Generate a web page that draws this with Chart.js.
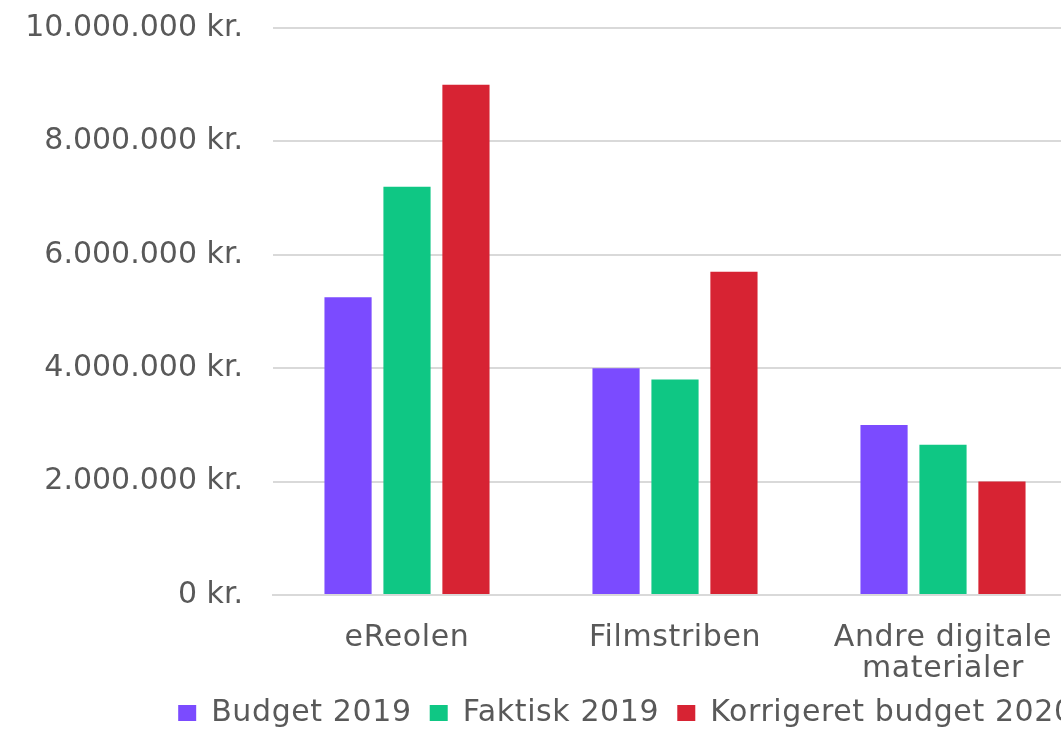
<!DOCTYPE html>
<html>
<head>
<meta charset="utf-8">
<script src="https://cdn.jsdelivr.net/npm/chart.js@4"></script>
<style>
  body { margin: 0; overflow: hidden; background: #fff; }
</style>
</head>
<body>
<canvas id="chart" width="1262" height="729"></canvas>
<script>
// Data
const categories = ["eReolen", "Filmstriben", ["Andre digitale", "materialer"]];
const budget2019 = [5250000, 4000000, 3000000];
const faktisk2019 = [7200000, 3800000, 2650000];
const korrigeret2020 = [9000000, 5700000, 2000000];
const seriesNames = ["Budget 2019", "Faktisk 2019", "Korrigeret budget 2020"];
const yTicks = [0, 2000000, 4000000, 6000000, 8000000, 10000000];

const textColor = "#595959";
const fontFamily = "'DejaVu Sans', sans-serif";
const canvasWidth = 1262;
const plotRight = 1077; // the original chart runs past the right edge of the picture
const plotBottom = 595;

// 10000000 -> "10.000.000 kr."
function kr(v) {
    return String(v).replace(/\B(?=(\d{3})+(?!\d))/g, ".") + " kr.";
}

const canvas = document.getElementById("chart");
const ctx = canvas.getContext("2d");

// category names and legend are a bit more spaced out than the axis numbers
const origFill = ctx.fillText.bind(ctx);
const origMeasure = ctx.measureText.bind(ctx);
function spacing(t) {
    return String(t).endsWith("kr.") ? "0px" : "0.6px";
}
ctx.fillText = function (t, x, y, w) {
    ctx.letterSpacing = spacing(t);
    if (w === undefined) origFill(t, x, y);
    else origFill(t, x, y, w);
};
ctx.measureText = function (t) {
    ctx.letterSpacing = spacing(t);
    return origMeasure(t);
};

const legendHeight = 48;
const legendShift = 9;

new Chart(ctx, {
    type: "bar",
    data: {
        labels: categories,
        datasets: [
            { label: seriesNames[0], data: budget2019, backgroundColor: "#7b4bff" },
            { label: seriesNames[1], data: faktisk2019, backgroundColor: "#0fc784" },
            { label: seriesNames[2], data: korrigeret2020, backgroundColor: "#d72333" },
        ],
    },
    options: {
        responsive: false,
        animation: false,
        layout: { padding: { top: 0, left: 0, right: 0, bottom: -legendShift } },
        datasets: {
            bar: { categoryPercentage: 0.66, barPercentage: 0.8 },
        },
        plugins: {
            legend: {
                position: "bottom",
                labels: {
                    color: textColor,
                    font: { family: fontFamily, size: 30 },
                    boxWidth: 18,
                    boxHeight: 16,
                    padding: 8,
                    // extra room between the legend items
                    generateLabels: (chart) =>
                        Chart.defaults.plugins.legend.labels.generateLabels(chart).map((l) => {
                            l.text = l.text + " ";
                            return l;
                        }),
                },
            },
            tooltip: { enabled: false },
        },
        scales: {
            x: {
                afterFit: (scale) => {
                    scale.height = 729 + legendShift - legendHeight - plotBottom;
                },
                grid: { display: false, drawTicks: false },
                border: { color: "#d9d9d9", width: 2 },
                ticks: {
                    color: textColor,
                    font: { family: fontFamily, size: 30, lineHeight: 1.05 },
                    maxRotation: 0,
                    padding: 27,
                },
            },
            y: {
                min: 0,
                max: 10000000,
                afterFit: (scale) => {
                    scale.width = 273;
                    scale.paddingTop = 28;
                    scale.paddingBottom = 0;
                },
                afterBuildTicks: (scale) => {
                    scale.ticks = yTicks.map((v) => ({ value: v }));
                },
                grid: { color: "#d9d9d9", lineWidth: 2, drawTicks: false },
                border: { display: false },
                ticks: {
                    padding: 30,
                    color: textColor,
                    font: { family: fontFamily, size: 30 },
                    callback: (v) => kr(v),
                },
            },
            y2: {
                position: "right",
                display: true,
                afterFit: (scale) => {
                    scale.width = canvasWidth - plotRight;
                },
                grid: { display: false, drawTicks: false },
                border: { display: false },
                ticks: { display: false },
            },
        },
    },
});
</script>
</body>
</html>
